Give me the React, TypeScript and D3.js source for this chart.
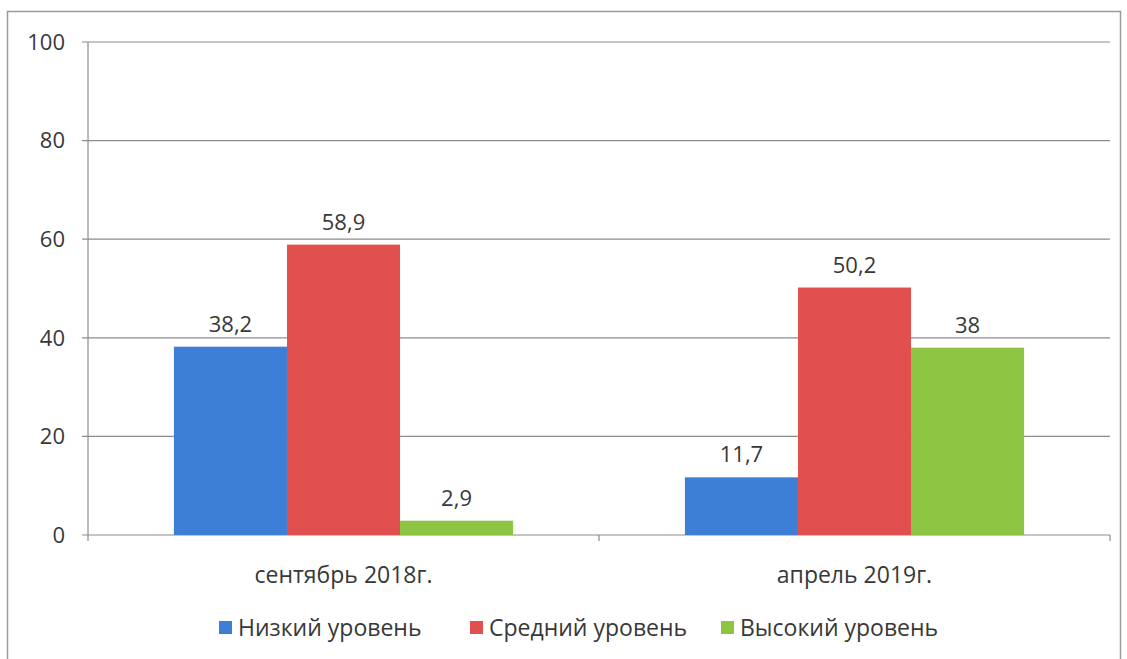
import { useEffect, useRef } from "react";
import * as d3 from "d3";

const categories = ["сентябрь 2018г.", "апрель 2019г."];
const seriesNames = ["Низкий уровень", "Средний уровень", "Высокий уровень"];
const lowValues = [38.2, 11.7];
const midValues = [58.9, 50.2];
const highValues = [2.9, 38];
const yTicks = [0, 20, 40, 60, 80, 100];
const colors = ["#3d7ed6", "#e0504e", "#8dc441"];

export default function App() {
  const svgRef = useRef<SVGSVGElement>(null);
  const width = 1127;
  const height = 659;

  useEffect(() => {
    if (!svgRef.current) return;
    const svg = d3.select(svgRef.current);
    svg.selectAll("*").remove();

    const font = "'Open Sans', 'Liberation Sans', sans-serif";
    const textColor = "#383838";
    const margin = { top: 42, right: 17, bottom: 124, left: 88 };
    const innerWidth = width - margin.left - margin.right;
    const innerHeight = height - margin.top - margin.bottom;

    // outer frame
    svg.append("rect")
      .attr("x", 7.5).attr("y", 11.5)
      .attr("width", 1113).attr("height", 660)
      .attr("fill", "white").attr("stroke", "#9a9a9a").attr("stroke-width", 1.5);

    const g = svg.append("g").attr("transform", `translate(${margin.left},${margin.top})`);

    const x0 = d3.scaleBand().domain(categories).range([0, innerWidth]).paddingInner(0).paddingOuter(0);
    const x1 = d3.scaleBand().domain(seriesNames).range([0, x0.bandwidth()]).paddingOuter(0.76).paddingInner(0);
    const y = d3.scaleLinear().domain([0, 100]).range([innerHeight, 0]);

    // gridlines
    g.append("g")
      .selectAll("line")
      .data(yTicks)
      .enter()
      .append("line")
      .attr("x1", -6).attr("x2", innerWidth)
      .attr("y1", (d) => y(d)).attr("y2", (d) => y(d))
      .attr("stroke", "#8c8c8c").attr("stroke-width", 1.2);

    // y axis line
    g.append("line")
      .attr("x1", 0).attr("x2", 0).attr("y1", 0).attr("y2", innerHeight)
      .attr("stroke", "#8c8c8c").attr("stroke-width", 1.2);

    // category ticks
    g.append("g")
      .selectAll("line")
      .data([0, ...categories.map((c) => (x0(c) ?? 0) + x0.bandwidth())])
      .enter()
      .append("line")
      .attr("x1", (d) => d).attr("x2", (d) => d)
      .attr("y1", innerHeight).attr("y2", innerHeight + 6)
      .attr("stroke", "#8c8c8c").attr("stroke-width", 1.2);

    // y tick labels
    g.append("g")
      .selectAll("text")
      .data(yTicks)
      .enter()
      .append("text")
      .attr("x", -23).attr("y", (d) => y(d))
      .attr("dy", "0.35em")
      .attr("text-anchor", "end")
      .attr("font-family", font).attr("font-size", 22)
      .attr("fill", textColor)
      .text((d) => d);

    const seriesValues = [lowValues, midValues, highValues];
    const rows = categories.flatMap((c, ci) =>
      seriesNames.map((s, si) => ({ cat: c, series: s, si, value: seriesValues[si][ci] }))
    );

    g.append("g")
      .selectAll("rect")
      .data(rows)
      .enter()
      .append("rect")
      .attr("x", (d) => (x0(d.cat) ?? 0) + (x1(d.series) ?? 0))
      .attr("y", (d) => y(d.value))
      .attr("width", x1.bandwidth())
      .attr("height", (d) => innerHeight - y(d.value))
      .attr("fill", (d) => colors[d.si]);

    g.append("g")
      .selectAll("text")
      .data(rows)
      .enter()
      .append("text")
      .attr("x", (d) => (x0(d.cat) ?? 0) + (x1(d.series) ?? 0) + x1.bandwidth() / 2)
      .attr("y", (d) => y(d.value) - 15)
      .attr("text-anchor", "middle")
      .attr("font-family", font).attr("font-size", 22)
      .attr("fill", textColor)
      .text((d) => String(d.value).replace(".", ","));

    // category labels
    g.append("g")
      .selectAll("text")
      .data(categories)
      .enter()
      .append("text")
      .attr("x", (d) => (x0(d) ?? 0) + x0.bandwidth() / 2)
      .attr("y", innerHeight + 48)
      .attr("text-anchor", "middle")
      .attr("font-family", font).attr("font-size", 23)
      .attr("fill", textColor)
      .text((d) => d);

    // legend
    const legendX = [219, 470, 721];
    const legend = svg.append("g");
    seriesNames.forEach((s, i) => {
      legend.append("rect")
        .attr("x", legendX[i]).attr("y", 621)
        .attr("width", 13).attr("height", 13)
        .attr("fill", colors[i]);
      legend.append("text")
        .attr("x", legendX[i] + 19).attr("y", 628)
        .attr("dy", "0.35em")
        .attr("font-family", font).attr("font-size", 23)
        .attr("fill", textColor)
        .text(s);
    });
  }, []);

  return (
    <svg
      ref={svgRef}
      width={width}
      height={height}
      style={{ position: "absolute", left: 0, top: 0, background: "white" }}
    />
  );
}
